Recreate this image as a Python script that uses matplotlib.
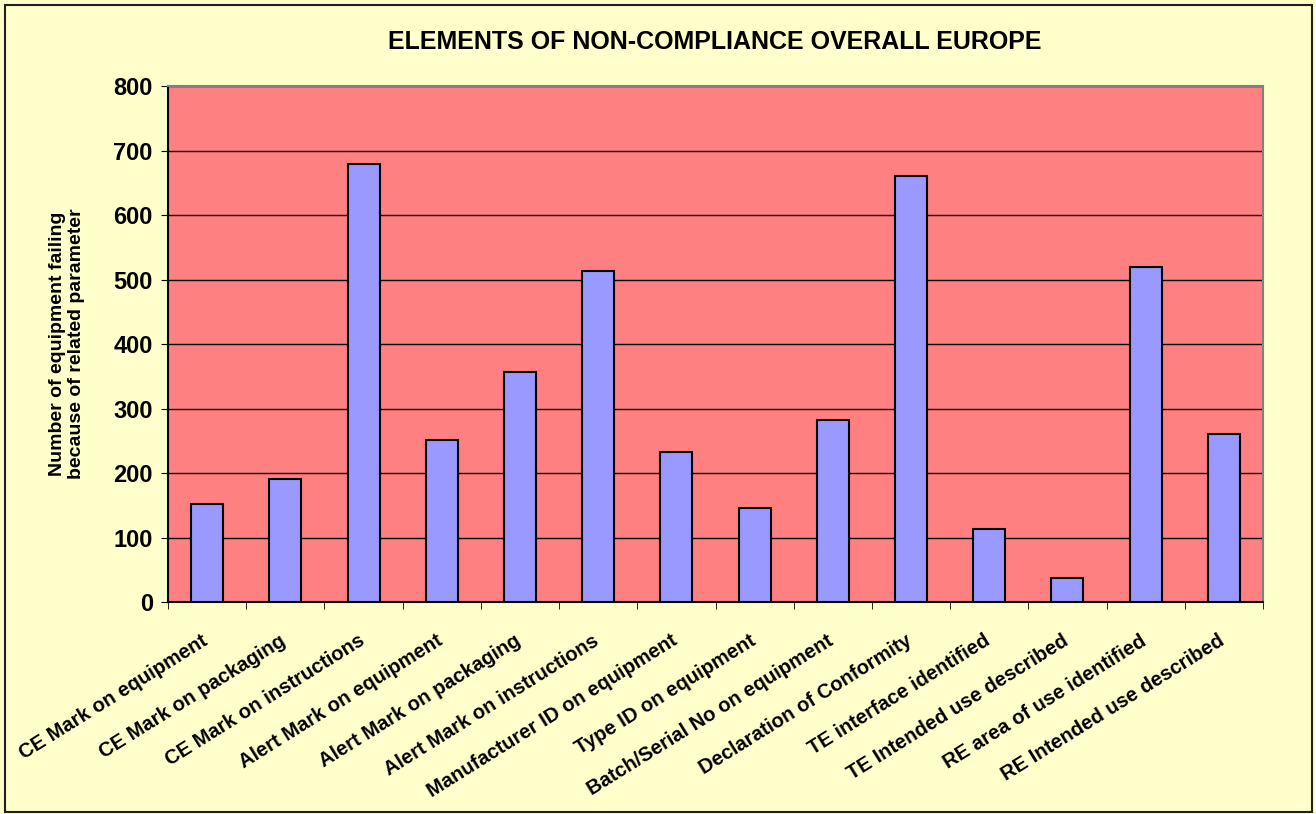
import numpy as np
import matplotlib.pyplot as plt
import matplotlib.transforms as mtransforms
from matplotlib.patches import Rectangle

categories = ["CE Mark on equipment", "CE Mark on packaging", "CE Mark on instructions",
              "Alert Mark on equipment", "Alert Mark on packaging", "Alert Mark on instructions",
              "Manufacturer ID on equipment", "Type ID on equipment", "Batch/Serial No on equipment",
              "Declaration of Conformity", "TE interface identified", "TE Intended use described",
              "RE area of use identified", "RE Intended use described"]
values = [152, 190, 679, 251, 356, 513, 232, 146, 282, 660, 114, 37, 519, 260]
yticks = [0, 100, 200, 300, 400, 500, 600, 700, 800]

plt.rcParams['font.family'] = ['Liberation Sans', 'DejaVu Sans']

fig = plt.figure(figsize=(13.16, 8.14), dpi=100, facecolor='#FFFFCC')
fig.patches.append(Rectangle((0.004, 0.003), 0.993, 0.991, transform=fig.transFigure,
                             fill=False, edgecolor='#202020', linewidth=1.5))

ax = fig.add_axes([0.1277, 0.2604, 0.8320, 0.6339])
ax.set_facecolor('#FF8080')

x = np.arange(len(categories))
ax.bar(x, values, width=0.41, color='#9999FF', edgecolor='black', linewidth=1.5, zorder=3)

ax.set_ylim(0, 800)
ax.set_xlim(-0.5, len(categories) - 0.5)
ax.set_yticks(yticks)
ax.set_yticklabels([str(t) for t in yticks], fontsize=17, fontweight='bold')
ax.yaxis.grid(True, color='black', linewidth=1, zorder=1)
ax.set_axisbelow(True)

ax.set_xticks(x)
ax.set_xticklabels(categories, rotation=32, ha='right', rotation_mode='anchor',
                   fontsize=14.5, fontweight='bold')
ax.tick_params(axis='x', which='major', length=0, pad=21)
shift = mtransforms.ScaledTranslation(-6 / 100, 0, fig.dpi_scale_trans)
for lbl in ax.get_xticklabels():
    lbl.set_transform(lbl.get_transform() + shift)
ax.set_xticks(np.arange(len(categories) + 1) - 0.5, minor=True)
ax.tick_params(axis='x', which='minor', length=5, direction='out', color='black')
ax.tick_params(axis='y', length=5, direction='out', color='black', pad=6)

ax.spines['left'].set_color('black')
ax.spines['bottom'].set_color('black')
ax.spines['top'].set_color('#808080')
ax.spines['right'].set_color('#808080')
for s in ax.spines.values():
    s.set_linewidth(1.5)

ax.set_ylabel("Number of equipment failing\nbecause of related parameter",
              fontsize=14, fontweight='bold', labelpad=20)

fig.text(0.543, 0.948, "ELEMENTS OF NON-COMPLIANCE OVERALL EUROPE", ha='center', va='center',
         fontsize=18, fontweight='bold')

fig.savefig('out.png', dpi=100, facecolor=fig.get_facecolor())
